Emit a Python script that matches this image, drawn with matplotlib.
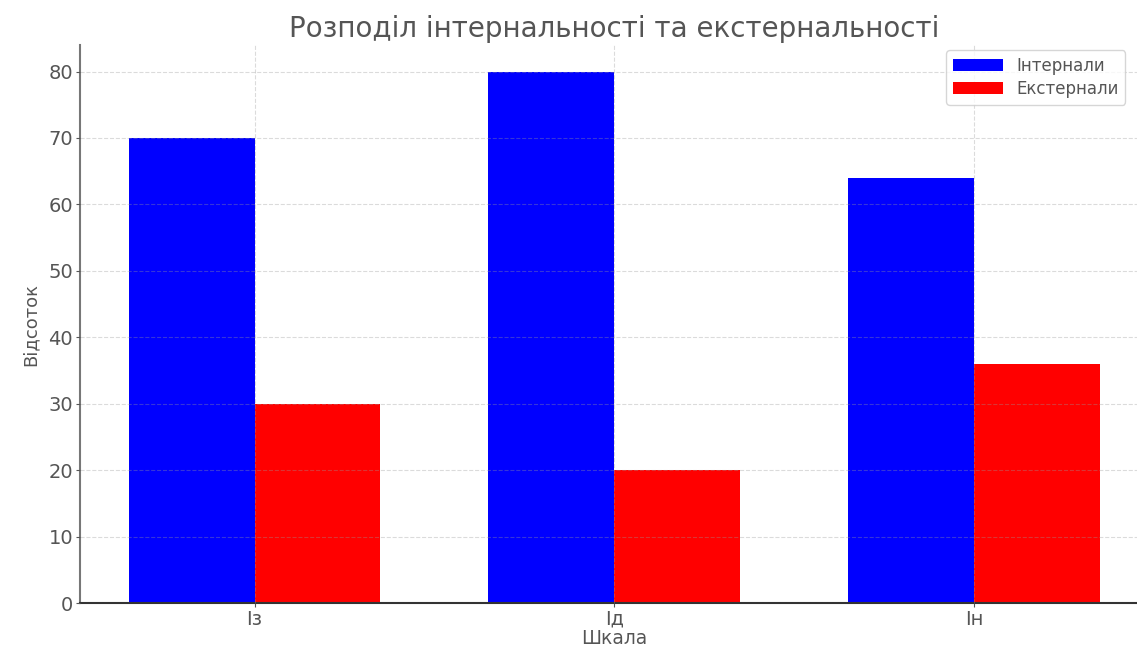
import numpy as np
import matplotlib.pyplot as plt

# Data
scales = ['Із', 'Ід', 'Ін']
internal = [70, 80, 64]
external = [30, 20, 36]

text_grey = '#555555'

fig = plt.figure(figsize=(11.37, 6.48), dpi=100)
ax = fig.add_axes([0.0704, 0.0694, 0.9398, 0.8612])

x = np.arange(len(scales))
w = 0.35
ax.bar(x - w / 2, internal, w, color='blue', label='Інтернали', zorder=2)
ax.bar(x + w / 2, external, w, color='red', label='Екстернали', zorder=2)

ax.set_xticks(x)
ax.set_xticklabels(scales)
ax.set_ylim(0, 84)
ax.set_xlim(-0.485, 2.485)

# faint dashed grid, drawn on top of the bars like the original
ax.grid(True, linestyle='--', color='#999999', alpha=0.35, linewidth=0.8, zorder=3)
ax.set_axisbelow(False)
for s in ['top', 'right']:
    ax.spines[s].set_visible(False)
ax.spines['left'].set_color('#777777')
ax.spines['left'].set_linewidth(1.5)
ax.spines['bottom'].set_color('#333333')
ax.spines['bottom'].set_linewidth(1.5)

ax.tick_params(colors=text_grey, labelsize=14, length=3, pad=2)
ax.set_title('Розподіл інтернальності та екстернальності', fontsize=20, color=text_grey, pad=6)
ax.set_xlabel('Шкала', fontsize=13.5, color=text_grey, labelpad=0)
ax.set_ylabel('Відсоток', fontsize=13, color=text_grey, labelpad=6)

ax.legend(loc='upper right', bbox_to_anchor=(0.997, 0.935), bbox_transform=fig.transFigure,
          fontsize=12, labelcolor=text_grey, handlelength=3, labelspacing=0.3,
          frameon=True)

fig.savefig('out.png', dpi=100)
